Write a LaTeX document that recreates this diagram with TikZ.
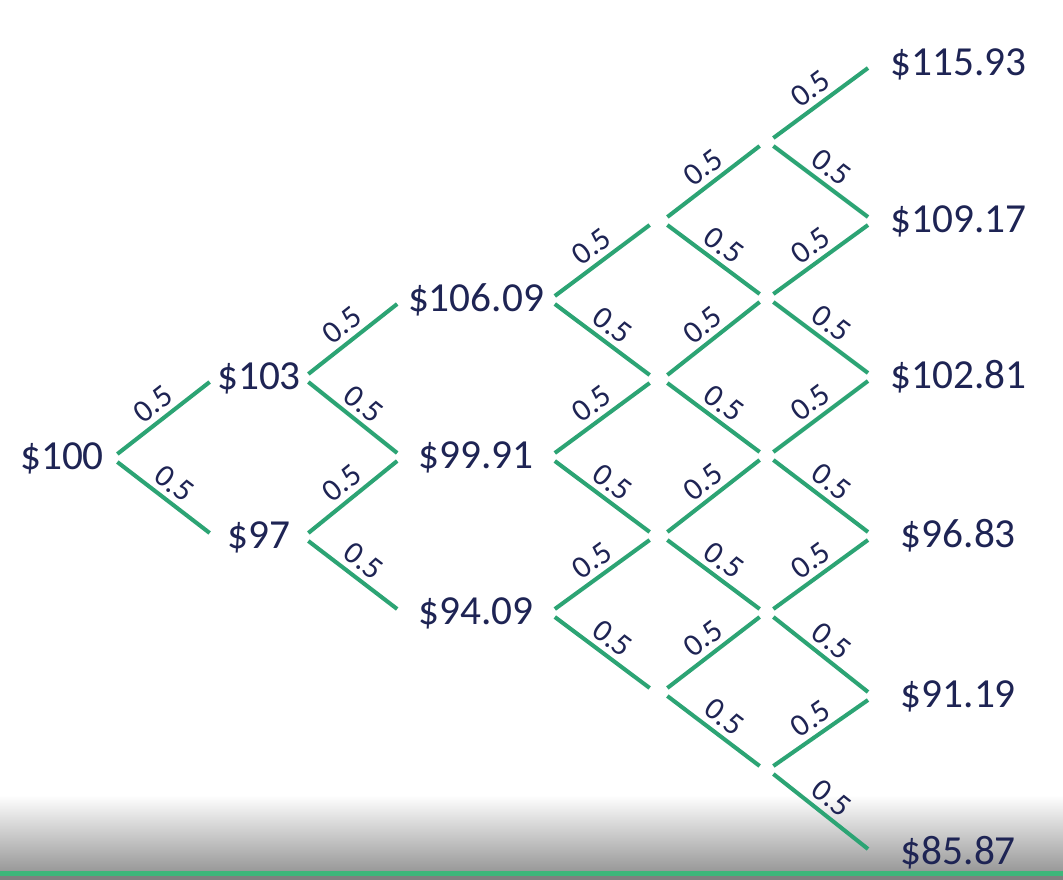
\documentclass[tikz,border=0pt]{standalone}
\usepackage{fontspec}
\setmainfont{Carlito}
\definecolor{edgegreen}{RGB}{44,164,116}
\definecolor{navy}{RGB}{30,36,84}
\definecolor{bandgreen}{RGB}{62,182,122}
\begin{document}
\begin{tikzpicture}[x=0.02cm,y=-0.02cm,
  price/.style={text=navy, font=\fontsize{23.5}{27}\selectfont, inner sep=0pt, minimum height=0.6cm},
  junc/.style={inner sep=0pt, minimum height=0pt},
  br/.style={draw=edgegreen, line width=2.3pt},
  prob/.style={text=navy, font=\fontsize{18}{20}\selectfont, sloped, above, midway, inner sep=3pt}]
\def\g{0.08cm}
% background and bottom band
\fill[white] (0,0) rectangle (1063,880);
\useasboundingbox (0,0) rectangle (1063,880);
\shade[top color=white, bottom color=black!40] (0,795) rectangle (1063,871);
\fill[bandgreen] (0,871) rectangle (1063,876);
\fill[black!50] (0,876) rectangle (1063,880);
% level 0
\node[price, minimum width=2.2cm] (n00) at (62,458) {\$100};
% level 1
\node[price, minimum width=1.96cm] (n10) at (259,378) {\$103};
\node[price, minimum width=1.96cm] (n11) at (259,537) {\$97};
% level 2
\node[price, minimum width=3.14cm] (n20) at (476,300) {\$106.09};
\node[price, minimum width=3.14cm] (n21) at (476,457) {\$99.91};
\node[price, minimum width=3.14cm] (n22) at (476,613) {\$94.09};
% level 3 (unlabelled junctions)
\foreach \j/\y in {0/221,1/379,2/536,3/692}
  \node[junc, minimum width=0.34cm] (n3\j) at (658.5,\y) {};
% level 4 (unlabelled junctions)
\foreach \j/\y in {0/142,1/298,2/456,3/613,4/770}
  \node[junc, minimum width=0.26cm] (n4\j) at (766.5,\y) {};
% level 5
\node[price, anchor=west, minimum width=3.6cm] (n50) at (868,64) {\$115.93};
\node[price, anchor=west, minimum width=3.6cm] (n51) at (868,221) {\$109.17};
\node[price, anchor=west, minimum width=3.6cm] (n52) at (868,377) {\$102.81};
\node[price, anchor=west, minimum width=3.6cm] (n53) at (868,536) {\$96.83};
\node[price, anchor=west, minimum width=3.6cm] (n54) at (868,696) {\$91.19};
\node[price, anchor=west, minimum width=3.6cm] (n55) at (868,853) {\$85.87};
% branches
\foreach \k in {0,...,4}{
  \pgfmathtruncatemacro\kn{\k+1}
  \foreach \j in {0,...,\k}{
    \pgfmathtruncatemacro\jn{\j+1}
    \draw[br] ([yshift=\g]n\k\j.east) -- node[prob]{0.5} ([yshift=-\g]n\kn\j.west);
    \draw[br] ([yshift=-\g]n\k\j.east) -- node[prob]{0.5} ([yshift=\g]n\kn\jn.west);
  }
}
\end{tikzpicture}
\end{document}
